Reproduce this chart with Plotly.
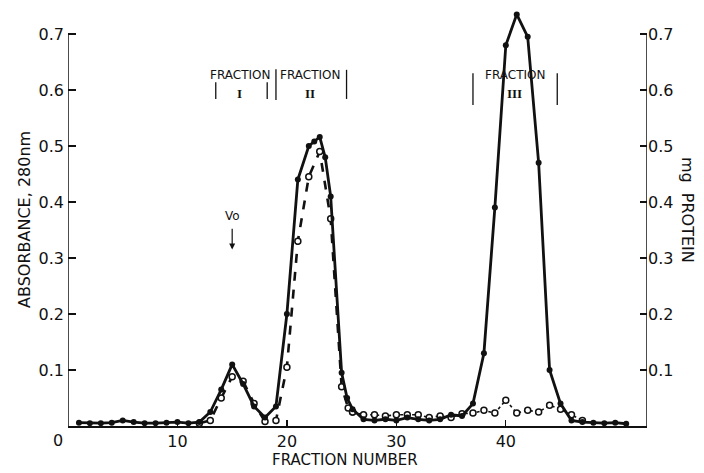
import plotly.graph_objects as go

# ---- data ----
abs_fraction = [1, 2, 3, 4, 5, 6, 7, 8, 9, 10, 11, 12, 13, 14, 15, 16, 17, 18, 19,
                20, 21, 22, 22.5, 23, 23.5, 24, 25, 25.5, 26, 27, 28, 29, 30, 31, 32,
                33, 34, 35, 36, 37, 38, 39, 40, 41, 42, 43, 44, 45, 46, 47, 48, 49, 50, 51]
abs_280 = [0.006, 0.005, 0.005, 0.006, 0.010, 0.007, 0.005, 0.005, 0.006, 0.007, 0.005,
           0.007, 0.025, 0.065, 0.110, 0.075, 0.035, 0.015, 0.035,
           0.200, 0.440, 0.500, 0.508, 0.516, 0.480, 0.410, 0.095, 0.050, 0.030, 0.012,
           0.010, 0.012, 0.010, 0.015, 0.012, 0.010, 0.012, 0.020, 0.018, 0.040, 0.130,
           0.390, 0.680, 0.735, 0.695, 0.470, 0.100, 0.040, 0.010, 0.007, 0.006, 0.005,
           0.006, 0.004]

prot_fraction_a = [12, 13, 14, 15, 16, 17, 18, 19, 20, 21, 22, 23, 24, 25, 25.6, 26]
prot_mg_a = [0.005, 0.010, 0.050, 0.088, 0.080, 0.040, 0.008, 0.010, 0.105, 0.330,
             0.445, 0.490, 0.370, 0.070, 0.032, 0.025]
prot_fraction_b = [26, 27, 28, 29, 30, 31, 32, 33, 34, 35, 36, 37, 38, 39, 40, 41,
                   42, 43, 44, 45, 46, 47]
prot_mg_b = [0.025, 0.020, 0.020, 0.018, 0.020, 0.020, 0.020, 0.015, 0.018, 0.015,
             0.022, 0.023, 0.028, 0.023, 0.046, 0.023, 0.028, 0.025, 0.037, 0.030,
             0.020, 0.010]

y_ticks = [0.1, 0.2, 0.3, 0.4, 0.5, 0.6, 0.7]
x_ticks = [10, 20, 30, 40]

# fraction pooling labels: (label, roman numeral, centre)
pools = [("FRACTION", "I", 15.7),
         ("FRACTION", "II", 22.1),
         ("FRACTION", "III", 40.8)]

INK = "#111111"
FONT = "DejaVu Sans"
X_MAX = 52.9
Y_TOP = 0.7607   # leaves headroom above the 0.7 axis end for peak III

fig = go.Figure()

fig.add_trace(go.Scatter(
    x=prot_fraction_a, y=prot_mg_a, mode="lines+markers",
    line=dict(color=INK, width=2.6, dash="dash"),
    marker=dict(symbol="circle", size=6, color="white",
                line=dict(color=INK, width=1.5)),
    showlegend=False))
fig.add_trace(go.Scatter(
    x=prot_fraction_b, y=prot_mg_b, mode="lines+markers",
    line=dict(color=INK, width=1.6, dash="dot"),
    marker=dict(symbol="circle", size=6, color="white",
                line=dict(color=INK, width=1.5)),
    showlegend=False))
fig.add_trace(go.Scatter(
    x=abs_fraction, y=abs_280, mode="lines+markers",
    line=dict(color=INK, width=2.8),
    marker=dict(symbol="circle", size=6, color=INK),
    showlegend=False))
# invisible trace to activate right axis
fig.add_trace(go.Scatter(x=[1], y=[0.01], yaxis="y2", mode="markers",
                         marker=dict(opacity=0), showlegend=False,
                         hoverinfo="skip"))

# vertical axis lines ending at 0.7
for xv in (0, X_MAX):
    fig.add_shape(type="line", x0=xv, x1=xv, y0=0, y1=0.7, xref="x", yref="y",
                  line=dict(color=INK, width=1.5))

# brackets and labels
for lab, roman, cx in pools:
    fig.add_annotation(x=cx, y=0.627, text=lab, showarrow=False,
                       font=dict(family=FONT, size=12, color=INK))
    fig.add_annotation(x=cx, y=0.594, text="<b>" + roman + "</b>", showarrow=False,
                       font=dict(family="Liberation Serif", size=13, color=INK))
for x0, y0, y1 in [(13.5, 0.584, 0.614), (18.2, 0.584, 0.614),
                   (19.0, 0.582, 0.637), (25.45, 0.584, 0.636),
                   (37.0, 0.573, 0.630), (44.7, 0.573, 0.630)]:
    fig.add_shape(type="line", x0=x0, x1=x0, y0=y0, y1=y1, xref="x", yref="y",
                  line=dict(color=INK, width=1.3))

# Vo marker
fig.add_annotation(x=15, y=0.315, ax=15, ay=0.355, axref="x", ayref="y",
                   text="", showarrow=True, arrowhead=2, arrowsize=1,
                   arrowwidth=1.2, arrowcolor=INK)
fig.add_annotation(x=15, y=0.375, text="Vo", showarrow=False,
                   font=dict(family=FONT, size=12, color=INK))

# origin "0"
fig.add_annotation(x=-10 / 579, xref="paper", y=0, yref="paper", text="0",
                   showarrow=False, xanchor="center", yanchor="middle", yshift=-14,
                   font=dict(family=FONT, size=16, color=INK))

# axis titles
fig.add_annotation(x=-0.074, xref="paper", y=0.484, yref="paper",
                   xanchor="center", yanchor="middle",
                   text="ABSORBANCE, 280nm", textangle=-90, showarrow=False,
                   font=dict(family=FONT, size=16, color=INK))
fig.add_annotation(x=1.071, xref="paper", y=0.507, yref="paper",
                   xanchor="center", yanchor="middle",
                   text="mg  PROTEIN", textangle=90, showarrow=False,
                   font=dict(family=FONT, size=16, color=INK))
fig.add_annotation(x=(345 - 68) / 579, xref="paper", y=0, yref="paper",
                   xanchor="center", yanchor="middle",
                   text="FRACTION NUMBER", showarrow=False, yshift=-34,
                   font=dict(family=FONT, size=15, color=INK))

axis_common = dict(showgrid=False, zeroline=False, ticks="inside", tickcolor=INK,
                   tickwidth=1.3, tickfont=dict(family=FONT, size=16, color=INK))

fig.update_layout(
    width=704, height=473,
    margin=dict(l=68, r=57, t=0, b=47),
    paper_bgcolor="white", plot_bgcolor="white",
    xaxis=dict(range=[0, X_MAX], tickvals=x_ticks, showline=True, linecolor=INK,
               linewidth=1.5, ticktext=[str(v) for v in x_ticks], ticklen=6,
               **axis_common),
    yaxis=dict(range=[0, Y_TOP], tickvals=y_ticks, showline=False,
               ticktext=[f"{v:.1f}" for v in y_ticks], ticklen=8,
               ticklabelstandoff=3, **axis_common),
    yaxis2=dict(range=[0, Y_TOP], overlaying="y", side="right", tickvals=y_ticks,
                showline=False, ticktext=[f"{v:.1f}" for v in y_ticks], ticklen=7,
                **axis_common),
)

fig.write_html("out.html",
               config={"displayModeBar": False, "staticPlot": True},
               post_script="document.body.style.margin='0';"
                           "document.body.style.overflow='hidden';")
